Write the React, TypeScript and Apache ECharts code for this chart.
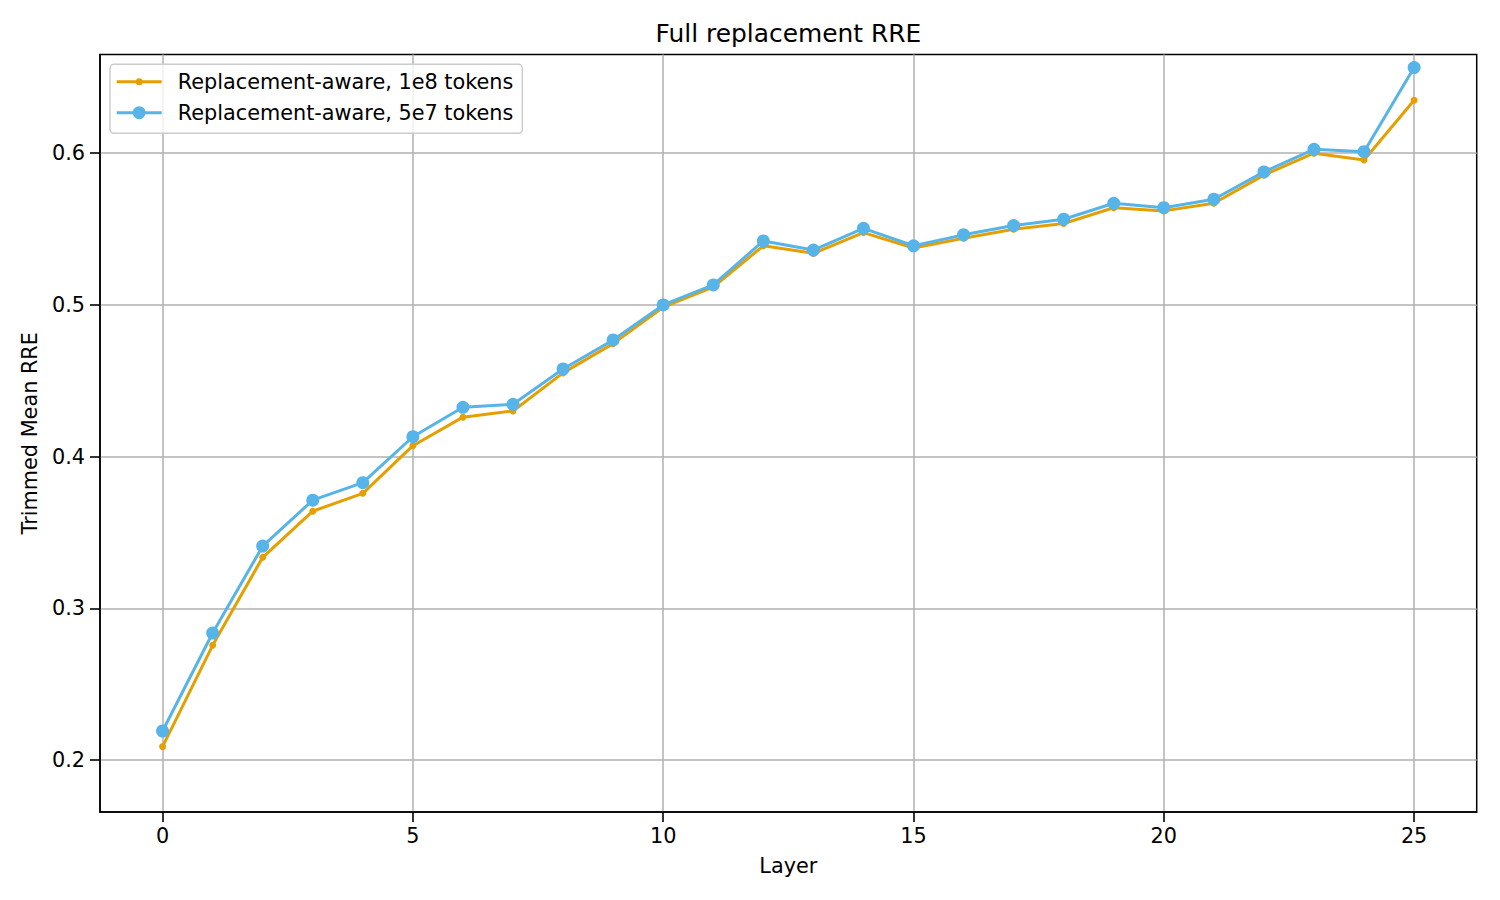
import React, { useEffect, useRef } from "react";
import * as echarts from "echarts";

const layers = [0, 1, 2, 3, 4, 5, 6, 7, 8, 9, 10, 11, 12, 13, 14, 15, 16, 17, 18, 19, 20, 21, 22, 23, 24, 25];
const rre1e8 = [
  0.2088, 0.2756, 0.3336, 0.364, 0.3758, 0.4072, 0.426, 0.4301, 0.4552, 0.4745, 0.4985, 0.5118, 0.539,
  0.534, 0.5477, 0.5375, 0.544, 0.5499, 0.5537, 0.5641, 0.562, 0.567, 0.5856, 0.6, 0.5956, 0.6349,
];
const rre5e7 = [
  0.2191, 0.2837, 0.341, 0.3713, 0.3828, 0.4131, 0.4325, 0.4345, 0.4578, 0.4769, 0.5, 0.5132, 0.5422,
  0.5362, 0.5505, 0.539, 0.5462, 0.5523, 0.5565, 0.567, 0.5641, 0.5697, 0.5877, 0.6026, 0.601, 0.6565,
];
const xTicks = [0, 5, 10, 15, 20, 25];
const yTicks = [0.2, 0.3, 0.4, 0.5, 0.6];
const seriesNames = ["Replacement-aware, 1e8 tokens", "Replacement-aware, 5e7 tokens"];
const titleText = "Full replacement RRE";
const xLabel = "Layer";
const yLabel = "Trimmed Mean RRE";

export default function App() {
  const ref = useRef<HTMLDivElement>(null);
  useEffect(() => {
    if (!ref.current) return;
    const chart = echarts.init(ref.current, null, { renderer: "svg" });
    const font = "DejaVu Sans";
    const orange = "#E69F00";
    const blue = "#56B4E9";
    const tickFont = { fontFamily: font, fontSize: 20.8, color: "#000", lineHeight: 22 };
    const spine = { show: true, onZero: false, lineStyle: { color: "#000", width: 1.5 } };
    const tickStyle = { color: "#000", width: 1.6 };
    chart.setOption({
      animation: false,
      backgroundColor: "#ffffff",
      textStyle: { fontFamily: font },
      title: {
        text: titleText,
        left: 655.5,
        top: 20.5,
        padding: 0,
        textStyle: { fontFamily: font, fontSize: 24.9, fontWeight: "normal", color: "#000", lineHeight: 25 },
      },
      legend: {
        orient: "vertical",
        left: 110,
        top: 64.3,
        padding: [6.4, 9, 9.6, 6.7],
        itemGap: 9,
        itemWidth: 45,
        itemHeight: 14,
        selectedMode: false,
        backgroundColor: "rgba(255,255,255,0.8)",
        borderColor: "#cccccc",
        borderWidth: 1.5,
        borderRadius: 4,
        textStyle: { ...tickFont, padding: [0, 0, 0, 11] },
        data: [
          {
            name: seriesNames[0],
            icon: "path://M0 5.5h45v3H0Z M19 7a3.5 3.5 0 1 1 7 0a3.5 3.5 0 1 1 -7 0Z",
            itemStyle: { color: orange, borderWidth: 0 },
          },
          {
            name: seriesNames[1],
            icon: "path://M0 5.5h45v3H0Z M16 7a6.5 6.5 0 1 1 13 0a6.5 6.5 0 1 1 -13 0Z",
            itemStyle: { color: blue, borderWidth: 0 },
          },
        ],
      },
      grid: {
        left: 100,
        right: 23.3,
        top: 54.5,
        bottom: 88,
        show: true,
        borderColor: "#000",
        borderWidth: 1.5,
        backgroundColor: "transparent",
      },
      xAxis: {
        type: "value",
        position: "bottom",
        min: -1.25,
        max: 26.25,
        minInterval: 5,
        maxInterval: 5,
        name: xLabel,
        nameLocation: "middle",
        nameGap: 43,
        nameTextStyle: tickFont,
        axisLine: spine,
        axisTick: { show: true, inside: false, length: 10, customValues: xTicks, lineStyle: tickStyle },
        axisLabel: { ...tickFont, margin: 13, customValues: xTicks },
        splitLine: { show: true, lineStyle: { color: "#b0b0b0", width: 1.5 } },
      },
      yAxis: {
        type: "value",
        position: "left",
        min: 0.1657,
        max: 0.6651,
        minInterval: 0.1,
        maxInterval: 0.1,
        name: yLabel,
        nameLocation: "middle",
        nameRotate: 90,
        nameGap: 55,
        nameTextStyle: tickFont,
        axisLine: spine,
        axisTick: { show: true, inside: false, length: 10, customValues: yTicks, lineStyle: tickStyle },
        axisLabel: { ...tickFont, margin: 15, padding: [4, 0, 0, 0], customValues: yTicks },
        splitLine: { show: true, lineStyle: { color: "#b0b0b0", width: 1.5 } },
      },
      series: [
        {
          name: seriesNames[0],
          type: "line",
          data: layers.map((l, i) => [l, rre1e8[i]]),
          symbol: "circle",
          symbolSize: 7,
          showSymbol: true,
          lineStyle: { color: orange, width: 3 },
          itemStyle: { color: orange, borderWidth: 0 },
          emphasis: { disabled: true },
          z: 2,
        },
        {
          name: seriesNames[1],
          type: "line",
          data: layers.map((l, i) => [l, rre5e7[i]]),
          symbol: "circle",
          symbolSize: 13,
          showSymbol: true,
          lineStyle: { color: blue, width: 3 },
          itemStyle: { color: blue, borderWidth: 0 },
          emphasis: { disabled: true },
          z: 3,
        },
      ],
    });
    return () => chart.dispose();
  }, []);
  return (
    <div
      ref={ref}
      style={{ position: "absolute", left: 0, top: 0, width: 1500, height: 900, background: "#fff" }}
    />
  );
}
